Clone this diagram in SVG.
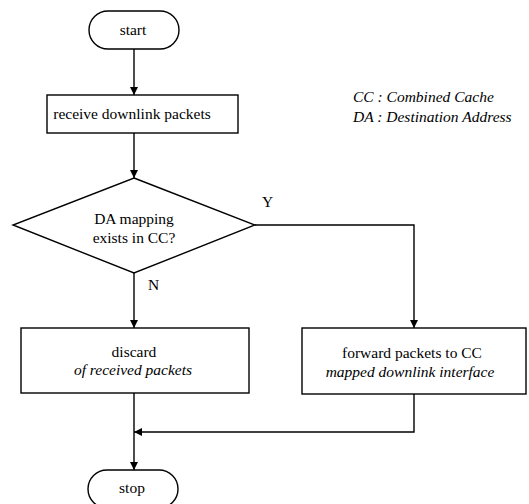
<svg xmlns="http://www.w3.org/2000/svg" width="529" height="504" viewBox="0 0 529 504">
  <style>
    .shape { fill: #ffffff; stroke: #000000; stroke-width: 1.4; }
    .line { fill: none; stroke: #000000; stroke-width: 1.4; }
    text { font-family: "Liberation Serif", "Times New Roman", serif; font-size: 15.5px; fill: #000000; }
    .c { text-anchor: middle; }
    .i { font-style: italic; }
  </style>
  <defs>
    <marker id="arrow" viewBox="0 0 10 10" refX="10" refY="5" markerWidth="8" markerHeight="8" markerUnits="userSpaceOnUse" orient="auto">
      <path d="M0,0 L10,5 L0,10 Z" fill="#000000"/>
    </marker>
  </defs>
  <rect width="529" height="504" fill="#ffffff"/>

  <g id="connectors">
    <line class="line" x1="134" y1="49" x2="134" y2="95" marker-end="url(#arrow)"/>
    <line class="line" x1="134" y1="133" x2="134" y2="178" marker-end="url(#arrow)"/>
    <line class="line" x1="134" y1="273" x2="134" y2="328" marker-end="url(#arrow)"/>
    <polyline class="line" points="255,225 414,225 414,328" marker-end="url(#arrow)"/>
    <line class="line" x1="134" y1="393" x2="134" y2="470" marker-end="url(#arrow)"/>
    <polyline class="line" points="414,394 414,432 134,432" marker-end="url(#arrow)"/>
    <text x="262" y="207">Y</text>
    <text x="148" y="290">N</text>
  </g>

  <g id="start">
    <rect class="shape" x="89" y="11" width="90" height="38" rx="19" ry="19"/>
    <text class="c" x="133" y="35">start</text>
  </g>

  <g id="receive">
    <rect class="shape" x="47" y="95" width="191" height="38"/>
    <text class="c" x="132" y="119">receive downlink packets</text>
  </g>

  <g id="decision">
    <polygon class="shape" points="134,178 255,225 134,273 13,225"/>
    <text class="c" x="134" y="224">DA mapping</text>
    <text class="c" x="134" y="243">exists in CC?</text>
  </g>

  <g id="discard">
    <rect class="shape" x="21" y="328" width="228" height="65"/>
    <text class="c" x="134" y="357">discard</text>
    <text class="c i" x="133" y="375">of received packets</text>
  </g>

  <g id="forward">
    <rect class="shape" x="302" y="328" width="224" height="66"/>
    <text class="c" x="412" y="358">forward packets to CC</text>
    <text class="c i" x="410" y="377">mapped downlink interface</text>
  </g>

  <g id="stop">
    <rect class="shape" x="88" y="470" width="90" height="38" rx="19" ry="19"/>
    <text class="c" x="132" y="493">stop</text>
  </g>

  <g id="legend">
    <text class="i" x="353" y="102">CC : Combined Cache</text>
    <text class="i" x="353" y="122">DA : Destination Address</text>
  </g>
</svg>
